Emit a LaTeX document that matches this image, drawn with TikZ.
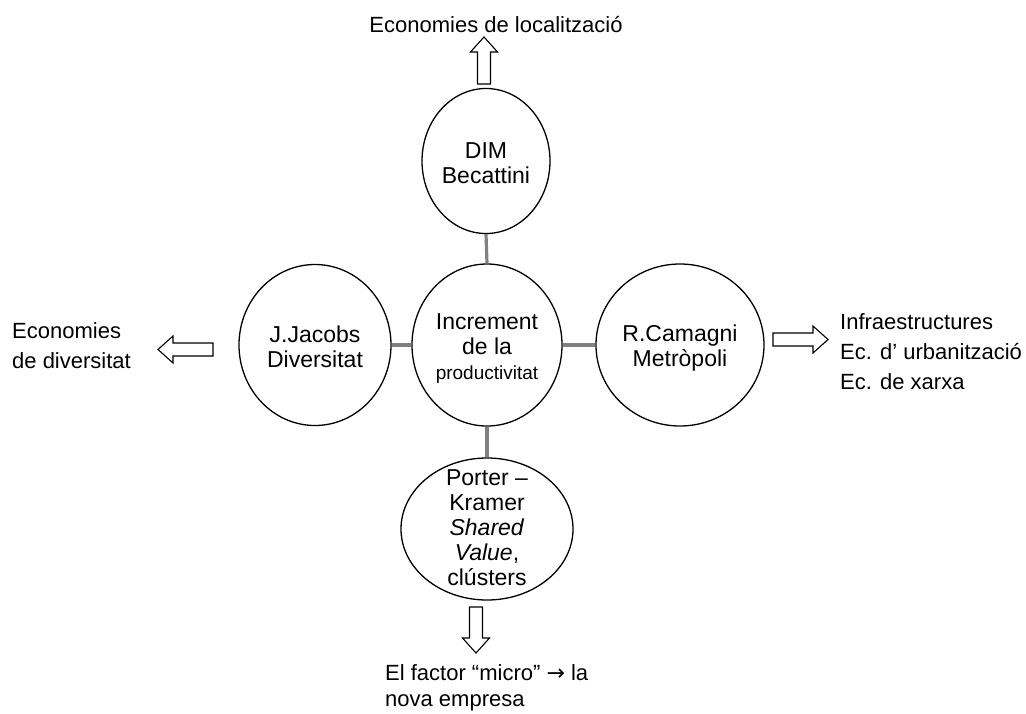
\documentclass[tikz,border=0pt]{standalone}
\usepackage{fontspec}
\setmainfont{Liberation Sans}
\newfontfamily\symfont{DejaVu Sans}
\usetikzlibrary{shapes.geometric}
\begin{document}
\begin{tikzpicture}[x=1pt,y=-1pt,
  circ/.style={draw, line width=1.3pt, ellipse, inner sep=0pt},
  ctext/.style={align=center, inner sep=0pt, font=\fontsize{23}{25}\selectfont},
  conn/.style={draw=black!50, line width=3.2pt},
  lab/.style={inner sep=0pt, font=\fontsize{22}{30}\selectfont},
  pics/barrow/.style={code={\draw[line width=1.1pt, fill=white, line join=miter]
    (0,-6.5) -- (#1-15,-6.5) -- (#1-15,-13.5) -- (#1,0) -- (#1-15,13.5) -- (#1-15,6.5) -- (0,6.5) -- cycle;}}
]
\useasboundingbox (0,0) rectangle (1026,713);

% ellipses
\node[circ, minimum width=150pt, minimum height=162pt] (inc) at (487,345) {};
\node[circ, minimum width=128pt, minimum height=145pt] (dim) at (486,161) {};
\node[circ, minimum width=152pt, minimum height=161pt] (jac) at (315,345) {};
\node[circ, minimum width=168pt, minimum height=162pt] (cam) at (680,345) {};
\node[circ, minimum width=172pt, minimum height=142pt] (por) at (487,529) {};

% texts inside
\node[ctext] (incT) at (487,349) {Increment\\de la\\{\fontsize{19}{21}\selectfont productivitat}};
\node[ctext] (dimT) at (486,163) {DIM\\Becattini};
\node[ctext] (jacT) at (315,347) {J.Jacobs\\Diversitat};
\node[ctext] (camT) at (680,348) {R.Camagni\\Metròpoli};
\node[ctext] (porT) at (487,528) {Porter –\\Kramer\\\textit{Shared}\\\textit{Value},\\clústers};

% connectors
\draw[conn] (dim.south) -- (inc.north);
\draw[conn] (jac.east) -- (inc.west);
\draw[conn] (inc.east) -- (cam.west);
\draw[conn] (inc.south) -- (por.north);

% block arrows
\pic[rotate=90] at (484,84) {barrow=47};
\pic[rotate=180] at (213,349.5) {barrow=55};
\pic at (773,339.5) {barrow=55};
\pic[rotate=-90] at (476,607) {barrow=46};

% outer labels
\node[lab, anchor=base] (tl) at (496,32) {Economies de localització};
\node[lab, anchor=west, align=left] (ll) at (12,346) {Economies\\de diversitat};
\node[lab, anchor=west, align=left] (rl) at (840,352) {Infraestructures\\Ec. d’ urbanització\\Ec. de xarxa};
\node[lab, anchor=west, align=left, font=\fontsize{22}{26}\selectfont] (bl) at (385,688) {El factor “micro” {\symfont →} la\\nova empresa};
\end{tikzpicture}
\end{document}
